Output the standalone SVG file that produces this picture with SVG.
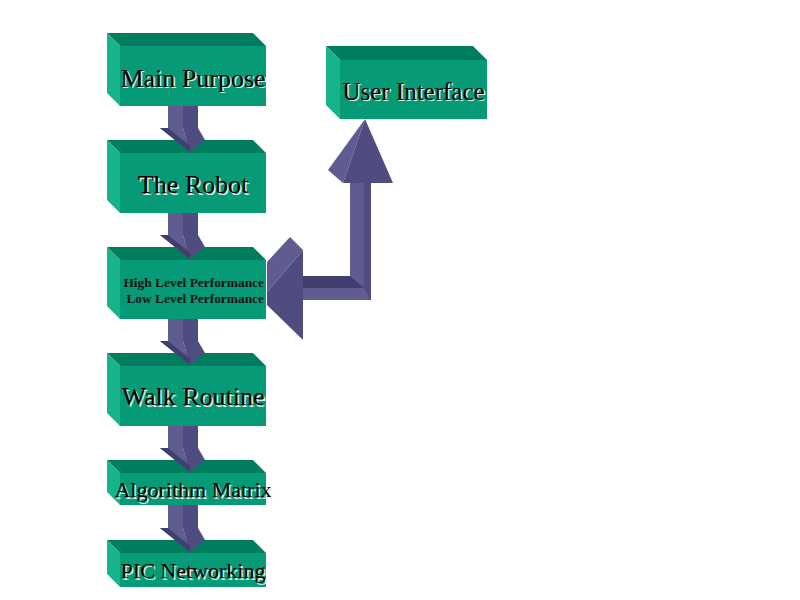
<svg xmlns="http://www.w3.org/2000/svg" width="800" height="600" viewBox="0 0 800 600">
<style>
.front{fill:#069a77}
.top{fill:#007c5e}
.side{fill:#17b48b}
.lbl{font-family:"Liberation Serif","Times New Roman",serif;fill:#000;text-anchor:middle}
.sh{fill:#d6efe5}
.sm{font-family:"Liberation Serif","Times New Roman",serif;font-weight:bold;font-size:13.4px;fill:#111;text-anchor:end}
.al{fill:#5e5c91}
.ad{fill:#4f4d80}
.ab{fill:#403e6c}
</style>
<rect width="800" height="600" fill="#fff"/>
<defs>
<g id="head">
<polygon class="al" points="160,0 183,0 190,24"/>
<polygon class="ad" points="183,0 198,0 205,12 190,24"/>
<polygon class="ab" points="160,0 168,0 190,18 190,24"/>
</g>
</defs>

<g id="connectors-back">
<rect class="al" x="350" y="183" width="14" height="117"/>
<rect class="ad" x="364" y="183" width="7" height="117"/>
<polygon class="ab" points="303,276 350,276 364,288 303,288"/>
<polygon class="al" points="303,288 364,288 371,300 303,300"/>
<polygon class="al" points="267,262 290,237 303,250 267,292"/>
<polygon class="ad" points="267,292 303,250 303,340 267,305"/>
<polygon class="al" points="365,119 328,170 343,183"/>
<polygon class="ad" points="365,119 343,183 393,183"/>
</g>

<g id="main-purpose">
<polygon class="top" points="107,33 253,33 266,46 120,46"/>
<polygon class="side" points="107,33 120,46 120,106 107,93"/>
<rect class="front" x="120" y="46" width="146" height="60"/>
<text class="lbl sh" x="194.5" y="88" font-size="26">Main Purpose</text>
<text class="lbl" x="193" y="86.5" font-size="26">Main Purpose</text>
</g>

<g id="the-robot">
<polygon class="top" points="107,140 253,140 266,153 120,153"/>
<polygon class="side" points="107,140 120,153 120,213 107,200"/>
<rect class="front" x="120" y="153" width="146" height="60"/>
<text class="lbl sh" x="194.5" y="194.5" font-size="26">The Robot</text>
<text class="lbl" x="193" y="193" font-size="26">The Robot</text>
</g>

<g id="performance">
<polygon class="top" points="107,247 253,247 266,260 120,260"/>
<polygon class="side" points="107,247 120,260 120,319 107,306"/>
<rect class="front" x="120" y="260" width="146" height="59"/>
<text class="sm" x="264" y="286.5">High Level Performance</text>
<text class="sm" x="264" y="302.5">Low Level Performance</text>
</g>

<g id="walk-routine">
<polygon class="top" points="107,353 253,353 266,366 120,366"/>
<polygon class="side" points="107,353 120,366 120,426 107,413"/>
<rect class="front" x="120" y="366" width="146" height="60"/>
<text class="lbl sh" x="194.5" y="406.5" font-size="26">Walk Routine</text>
<text class="lbl" x="193" y="405" font-size="26">Walk Routine</text>
</g>

<g id="algorithm-matrix">
<polygon class="top" points="107,460 253,460 266,473 120,473"/>
<polygon class="side" points="107,460 120,473 120,505 107,492"/>
<rect class="front" x="120" y="473" width="146" height="32"/>
<text class="lbl sh" x="194.5" y="498.5" font-size="22">Algorithm Matrix</text>
<text class="lbl" x="193" y="497" font-size="22">Algorithm Matrix</text>
</g>

<g id="pic-networking">
<polygon class="top" points="107,540 253,540 266,553 120,553"/>
<polygon class="side" points="107,540 120,553 120,587 107,574"/>
<rect class="front" x="120" y="553" width="146" height="34"/>
<text class="lbl sh" x="194.5" y="579.5" font-size="22">PIC Networking</text>
<text class="lbl" x="193" y="578" font-size="22">PIC Networking</text>
</g>

<g id="user-interface">
<polygon class="top" points="326,46 473,46 487,60 340,60"/>
<polygon class="side" points="326,46 340,60 340,119 326,105"/>
<rect class="front" x="340" y="60" width="147" height="59"/>
<text class="lbl sh" x="415" y="101" font-size="25">User Interface</text>
<text class="lbl" x="413.5" y="99.5" font-size="25">User Interface</text>
</g>

<g id="connectors">
<g id="a1"><rect class="al" x="168" y="106" width="15" height="22"/><rect class="ad" x="183" y="106" width="15" height="22"/><use href="#head" y="128"/></g>
<g id="a2"><rect class="al" x="168" y="213" width="15" height="22"/><rect class="ad" x="183" y="213" width="15" height="22"/><use href="#head" y="235"/></g>
<g id="a3"><rect class="al" x="168" y="319" width="15" height="22"/><rect class="ad" x="183" y="319" width="15" height="22"/><use href="#head" y="341"/></g>
<g id="a4"><rect class="al" x="168" y="426" width="15" height="22"/><rect class="ad" x="183" y="426" width="15" height="22"/><use href="#head" y="448"/></g>
<g id="a5"><rect class="al" x="168" y="505" width="15" height="23"/><rect class="ad" x="183" y="505" width="15" height="23"/><use href="#head" y="528"/></g>
</g>
</svg>
